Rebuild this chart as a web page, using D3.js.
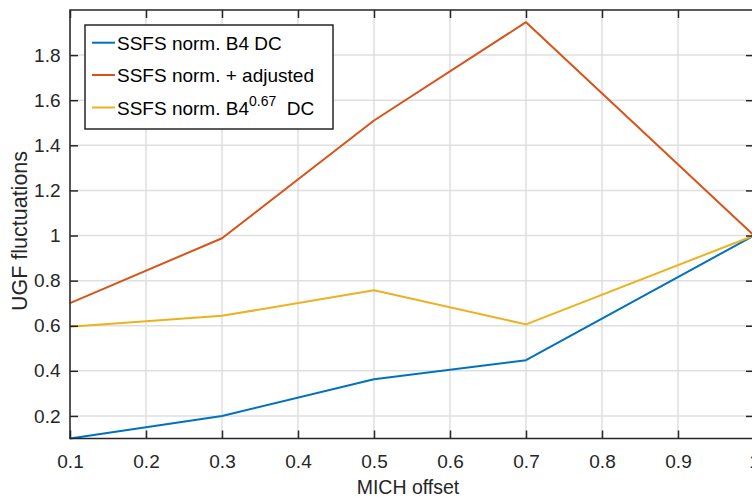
<!DOCTYPE html>
<html>
<head>
<meta charset="utf-8">
<script src="https://cdn.jsdelivr.net/npm/d3@7"></script>
<style>
  html, body { margin: 0; padding: 0; background: #fff; }
  svg { display: block; font-family: "Liberation Sans", Arial, Helvetica, sans-serif; }
</style>
</head>
<body>
<svg id="chart" width="752" height="497"></svg>
<script>
// ---- data ----
const xValues = [0.1, 0.3, 0.5, 0.7, 1.0];
const seriesNames = ["SSFS norm. B4 DC", "SSFS norm. + adjusted", "SSFS norm. B4"];
const blueValues = [0.10, 0.20, 0.363, 0.447, 1.0];
const orangeValues = [0.70, 0.988, 1.51, 1.946, 1.0];
const yellowValues = [0.596, 0.644, 0.757, 0.606, 1.0];
const xTicks = [0.1, 0.2, 0.3, 0.4, 0.5, 0.6, 0.7, 0.8, 0.9, 1];
const yTicks = [0.2, 0.4, 0.6, 0.8, 1.0, 1.2, 1.4, 1.6, 1.8];
const colors = ["#0072BD", "#D95319", "#EDB120"];

const svg = d3.select("#chart");
const pLeft = 70, pRight = 754, pTop = 10, pBottom = 438.5;

const x = d3.scaleLinear().domain([0.1, 1.0]).range([pLeft, pRight]);
const y = d3.scaleLinear().domain([0.1, 2.0]).range([pBottom, pTop]);

// grid
const grid = svg.append("g");
grid.selectAll("line.gx").data(xTicks).join("line").attr("class", "gx")
  .attr("x1", d => x(d)).attr("x2", d => x(d))
  .attr("y1", pTop).attr("y2", pBottom)
  .attr("stroke", "#dfdfdf").attr("stroke-width", 1.5);
grid.selectAll("line.gy").data(yTicks).join("line").attr("class", "gy")
  .attr("x1", pLeft).attr("x2", pRight)
  .attr("y1", d => y(d)).attr("y2", d => y(d))
  .attr("stroke", "#dfdfdf").attr("stroke-width", 1.5);

// lines
const allSeries = [blueValues, orangeValues, yellowValues];
const line = d3.line().x((d, i) => x(xValues[i])).y(d => y(d));
svg.append("g").selectAll("path").data(allSeries).join("path")
  .attr("d", d => line(d))
  .attr("fill", "none")
  .attr("stroke", (d, i) => colors[i])
  .attr("stroke-width", 2)
  .attr("stroke-linejoin", "round");

// axes
const axisColor = "#262626";
const tickLen = 8;
const fmt = d => (d === 1 ? "1" : d3.format(".1f")(d));

const xAxisB = d3.axisBottom(x).tickValues(xTicks).tickSizeInner(-tickLen).tickSizeOuter(0).tickPadding(16).tickFormat(fmt);
const xAxisT = d3.axisTop(x).tickValues(xTicks).tickSizeInner(-tickLen).tickSizeOuter(0).tickFormat("");
const yAxisL = d3.axisLeft(y).tickValues(yTicks).tickSizeInner(-tickLen).tickSizeOuter(0).tickPadding(9.5).tickFormat(fmt);
const yAxisR = d3.axisRight(y).tickValues(yTicks).tickSizeInner(-tickLen).tickSizeOuter(0).tickFormat("");

function style(g) {
  g.select(".domain").remove();
  g.selectAll(".tick line").attr("stroke", axisColor).attr("stroke-width", 1.5);
  g.selectAll(".tick text").attr("fill", axisColor).attr("font-size", 19)
    .attr("font-family", "'Liberation Sans', Arial, sans-serif");
}
svg.append("g").attr("transform", `translate(0,${pBottom})`).call(xAxisB).call(style);
svg.append("g").attr("transform", `translate(0,${pTop})`).call(xAxisT).call(style);
svg.append("g").attr("transform", `translate(${pLeft},0)`).call(yAxisL).call(style);
svg.append("g").attr("transform", `translate(${pRight},0)`).call(yAxisR).call(style);

// box
svg.append("rect").attr("x", pLeft).attr("y", pTop)
  .attr("width", pRight - pLeft).attr("height", pBottom - pTop)
  .attr("fill", "none").attr("stroke", axisColor).attr("stroke-width", 1.5);

// axis labels
svg.append("text").attr("x", 408).attr("y", 494)
  .attr("text-anchor", "middle").attr("font-size", 19.5).attr("fill", axisColor)
  .text("MICH offset");
svg.append("text").attr("transform", "translate(27,231) rotate(-90)")
  .attr("text-anchor", "middle").attr("font-size", 21.5).attr("fill", axisColor)
  .text("UGF fluctuations");

// legend
const lg = svg.append("g");
lg.append("rect").attr("x", 85).attr("y", 25).attr("width", 248).attr("height", 104)
  .attr("fill", "#fff").attr("stroke", axisColor).attr("stroke-width", 1.5);
const rowY = [42.7, 75, 107.5];
seriesNames.forEach((name, i) => {
  lg.append("line").attr("x1", 92).attr("x2", 115)
    .attr("y1", rowY[i]).attr("y2", rowY[i])
    .attr("stroke", colors[i]).attr("stroke-width", 2);
  const t = lg.append("text").attr("x", 117).attr("y", rowY[i] + 7)
    .attr("font-size", 19).attr("fill", "#000");
  t.append("tspan").text(name);
  if (i === 2) {
    t.append("tspan").attr("font-size", 14).attr("dy", -9).text("0.67");
    t.append("tspan").attr("dy", 9).text("\u00a0\u00a0DC");
  }
});
</script>
</body>
</html>
